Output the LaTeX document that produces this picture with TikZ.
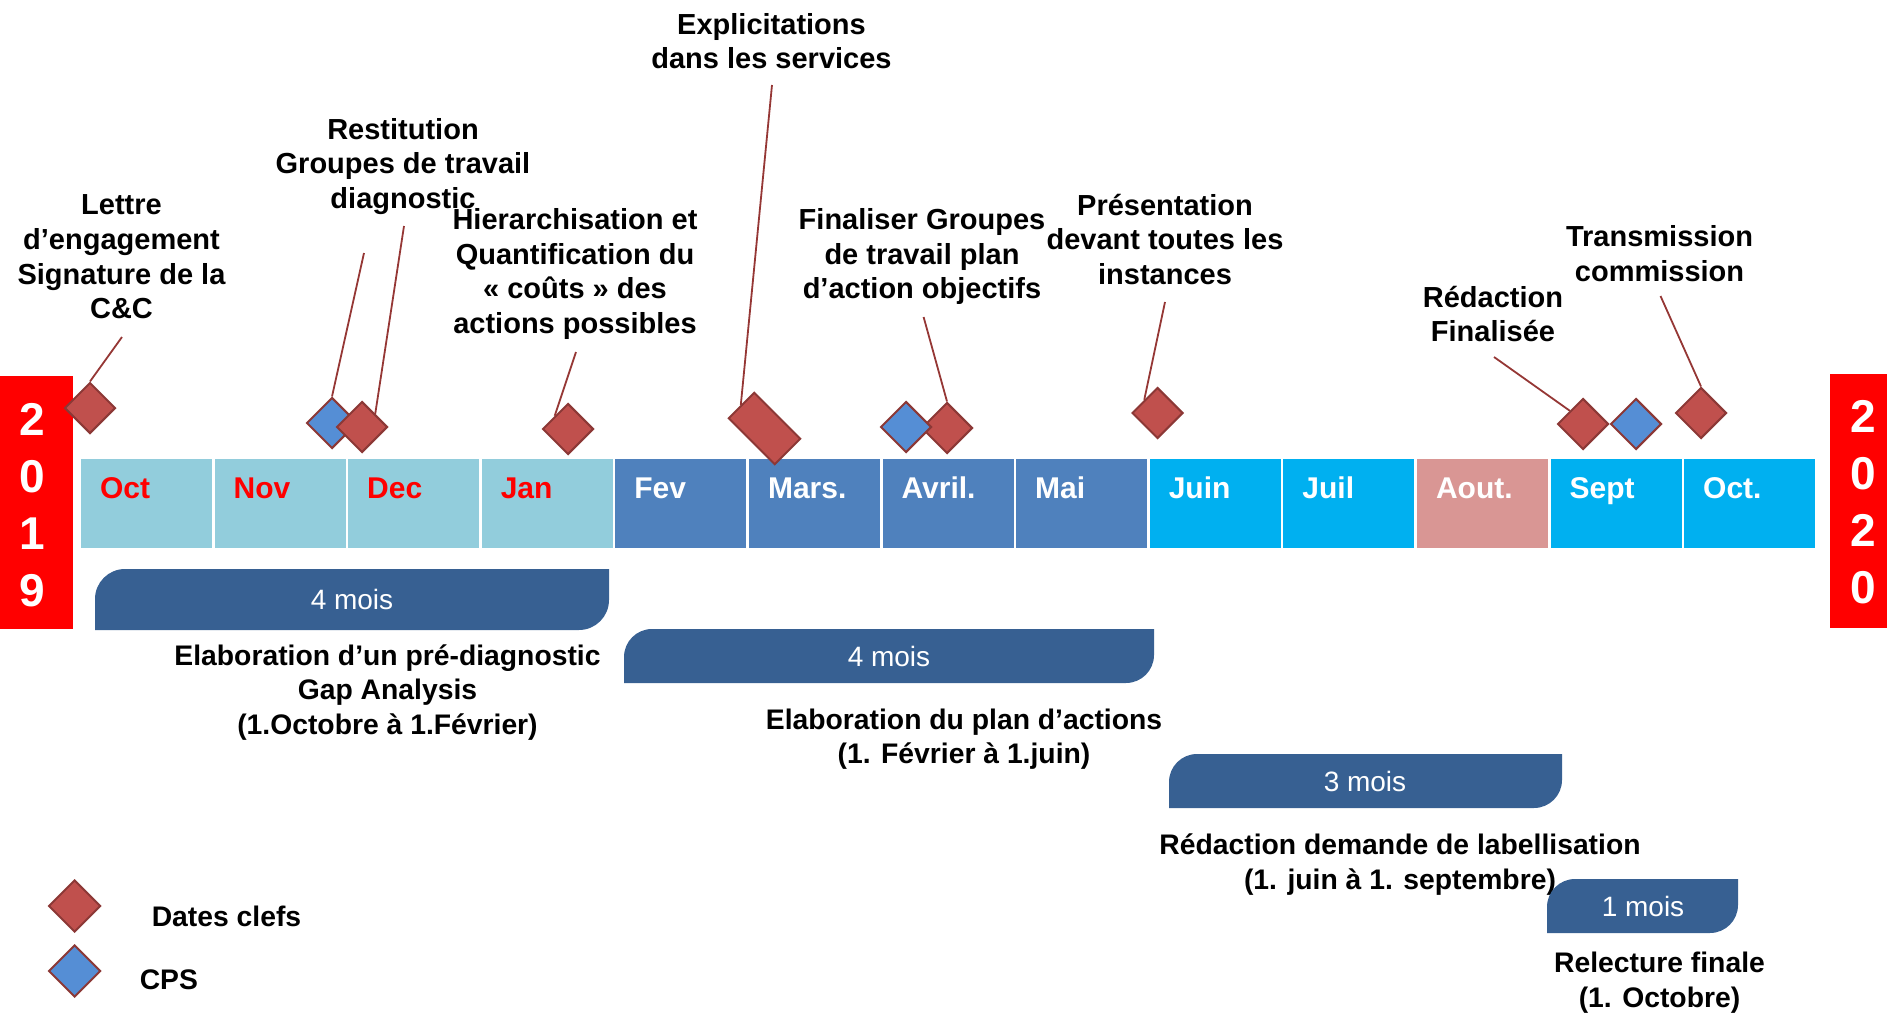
\documentclass[tikz,border=0pt]{standalone}
\usepackage{fontspec}
\setmainfont{Liberation Sans}
\usetikzlibrary{shapes.geometric,calc}
\definecolor{lightb}{HTML}{92CDDC}
\definecolor{midb}{HTML}{4F81BD}
\definecolor{cyanb}{HTML}{00B0F0}
\definecolor{pinkb}{HTML}{D99694}
\definecolor{barblue}{HTML}{376092}
\definecolor{dredfill}{HTML}{C0504D}
\definecolor{dbluefill}{HTML}{558ED5}
\definecolor{dborder}{HTML}{8C3836}
\definecolor{connred}{HTML}{953735}
\definecolor{yearred}{HTML}{FF0000}
\newcommand{\mybar}[5]{\fill[barblue] (#1,#4) -- (#1,{#3+#5}) .. controls (#1,{#3+0.448*#5}) and ({#1+0.448*#5},#3) .. ({#1+#5},#3) -- (#2,#3) -- (#2,{#4-#5}) .. controls (#2,{#4-0.448*#5}) and ({#2-0.448*#5},#4) .. ({#2-#5},#4) -- cycle;}
\begin{document}
\begin{tikzpicture}[x=1pt,y=-1pt,
  lbl/.style={font=\fontsize{29}{34.7}\selectfont\bfseries, align=center, inner sep=0},
  blbl/.style={lbl, font=\fontsize{28.3}{34.5}\selectfont\bfseries},
  mlbl/.style={font=\fontsize{30}{36}\selectfont\bfseries, anchor=base west, inner sep=0},
  mbox/.style={rectangle, minimum width=131, minimum height=89, inner sep=0, draw=none},
  dred/.style={diamond, aspect=1, draw=dborder, fill=dredfill, line width=2, minimum width=51, minimum height=51, inner sep=0},
  dblue/.style={dred, fill=dbluefill},
  conn/.style={draw=connred, line width=1.8},
  yearbox/.style={rectangle, fill=yearred, inner sep=0, draw=none},
  yeartxt/.style={font=\fontsize{46}{57}\selectfont\bfseries, text=white, align=center, inner sep=0},
  bartxt/.style={font=\fontsize{28}{32}\selectfont, text=white, inner sep=0}]
\useasboundingbox (0,0) rectangle (1887,1014);

% year boxes
\node[yearbox, minimum width=73, minimum height=253] (y19) at (36.5,502.5) {};
\node[yeartxt] (d19) at (32,505) {2\\0\\1\\9};
\node[yearbox, minimum width=57, minimum height=254] (y20) at (1858.5,501) {};
\node[yeartxt] (d20) at (1863,502.5) {2\\0\\2\\0};

% months
\foreach \i/\nm/\fc/\tc in {0/Oct/lightb/red, 1/Nov/lightb/red, 2/Dec/lightb/red, 3/Jan/lightb/red,
  4/Fev/midb/white, 5/Mars./midb/white, 6/Avril./midb/white, 7/Mai/midb/white,
  8/Juin/cyanb/white, 9/Juil/cyanb/white, 10/Aout./pinkb/white, 11/Sept/cyanb/white, 12/Oct./cyanb/white} {
  \node[mbox, fill=\fc] (m\i) at ({81+133.6*\i+65.5}, 503.5) {};
  \node[mlbl, text=\tc] (t\i) at ($(m\i.north west)+(19,40)$) {\nm};
}

% diamonds
\node[dred] (dOct) at (90,408) {};
\node[dblue] (dNovB) at (332,423) {};
\node[dred] (dDec) at (362,427) {};
\node[dred] (dJan) at (568,429) {};
\node[rectangle, draw=dborder, fill=dredfill, line width=2, minimum width=65, minimum height=36, inner sep=0, rotate=-45] (dMars) at (764.5,428.5) {};
\node[dred] (dAvR) at (947,428) {};
\node[dblue] (dAvB) at (906,427) {};
\node[dred] (dJuin) at (1157.5,413) {};
\node[dred] (dSeptR) at (1583,424) {};
\node[dblue] (dSeptB) at (1636,424) {};
\node[dred] (dOct2) at (1701,413) {};

% labels
\node[lbl] (lLettre) at (121.5,257) {Lettre\\d’engagement\\Signature de la\\C\&C};
\node[lbl] (lRest) at (403,166.5) {Restitution\\Groupes de travail\\diagnostic};
\node[lbl] (lHier) at (575,274) {Hierarchisation et\\Quantification du\\« coûts » des\\actions possibles};
\node[lbl] (lExpl) at (771.5,41) {Explicitations\\dans les services};
\node[lbl] (lFin) at (922,256.5) {Finaliser Groupes\\de travail plan\\d’action objectifs};
\node[lbl] (lPres) at (1165,239.5) {Présentation\\devant toutes les\\instances};
\node[lbl] (lRedF) at (1493,314) {Rédaction\\Finalisée};
\node[lbl] (lTrans) at (1659.5,253.5) {Transmission\\commission};

% connector start points
\coordinate (cLettre) at (122,337);
\coordinate (cRest1) at (364,253);
\coordinate (cRest2) at (404,226);
\coordinate (cHier) at (576,352);
\coordinate (cExpl) at (772,85);
\coordinate (cFin) at (923.6,317);
\coordinate (cPres) at (1165,302);
\coordinate (cRed) at (1494,357);
\coordinate (cTrans) at (1660.5,296);

\draw[conn] (cLettre) -- (dOct.north);
\draw[conn] (cRest1) -- (dNovB.north);
\draw[conn] (cRest2) -- (dDec.north east);
\draw[conn] (cHier) -- (dJan.north west);
\draw[conn] (cExpl) -- (dMars.west);
\draw[conn] (cFin) -- (dAvR.north);
\draw[conn] (cPres) -- (dJuin.north west);
\draw[conn] (cRed) -- (dSeptR.north west);
\draw[conn] (cTrans) -- (dOct2.north);

% duration bars
\mybar{95}{609}{569}{630}{30}
\node[bartxt] (b1) at (352,599.5) {4 mois};
\mybar{624}{1154}{629}{683}{28}
\node[bartxt] (b2) at (889,656) {4 mois};
\mybar{1169}{1562}{754}{808}{28}
\node[bartxt] (b3) at (1365,781.5) {3 mois};

\node[blbl] (lElab1) at (387.5,692.5) {Elaboration d’un pré-diagnostic\\Gap Analysis\\(1.Octobre à 1.Février)};
\node[blbl] (lElab2) at (964,739) {Elaboration du plan d’actions\\(1. Février à 1.juin)};
\node[blbl] (lRedD) at (1400,864.5) {Rédaction demande de labellisation\\(1. juin à 1. septembre)};

\mybar{1547}{1738}{879}{933}{28}
\node[bartxt] (b4) at (1643,906.5) {1 mois};
\node[blbl] (lRel) at (1659.5,982.5) {Relecture finale\\(1. Octobre)};

% legend
\node[dred, minimum width=52, minimum height=52] (legR) at (74.6,906) {};
\node[dblue, minimum width=52, minimum height=52] (legB) at (74.6,971) {};
\node[blbl, anchor=west] (legRt) at (151.6,916) {Dates clefs};
\node[blbl, anchor=west] (legBt) at (139.6,980) {CPS};
\end{tikzpicture}
\end{document}
